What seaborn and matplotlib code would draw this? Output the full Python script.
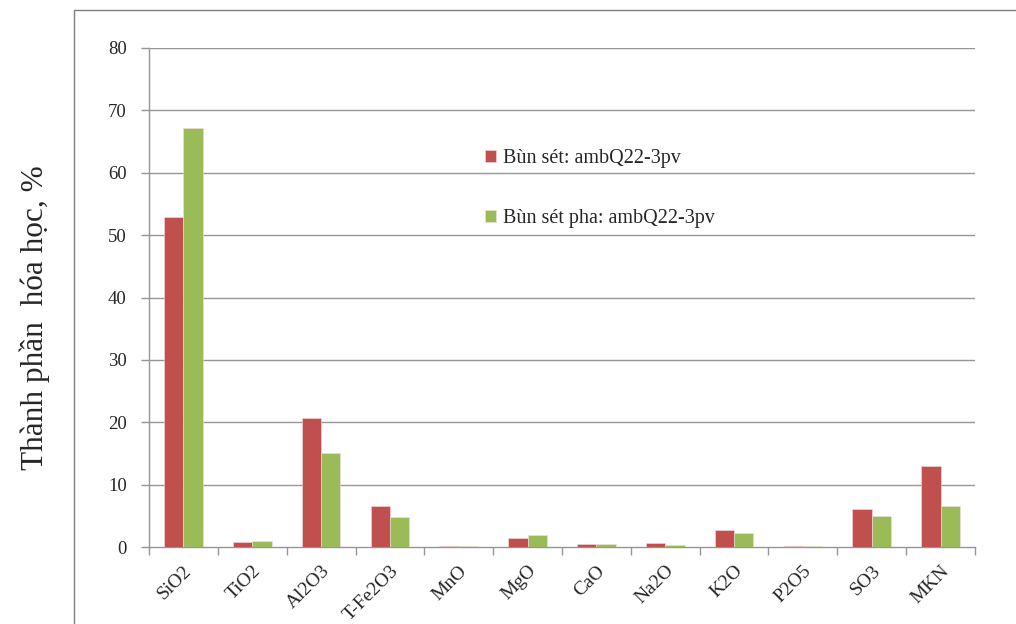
import matplotlib
matplotlib.use("Agg")
import matplotlib.pyplot as plt
from matplotlib.patches import Rectangle
import seaborn as sns
import pandas as pd

# Chemical composition of the two clay samples (%)
oxides = ["SiO2", "TiO2", "Al2O3", "T-Fe2O3", "MnO", "MgO", "CaO",
          "Na2O", "K2O", "P2O5", "SO3", "MKN"]
bun_set = [52.9, 0.8, 20.7, 6.5, 0.2, 1.45, 0.55, 0.7, 2.7, 0.2, 6.1, 13.0]
bun_set_pha = [67.2, 1.0, 15.0, 4.8, 0.15, 2.0, 0.55, 0.4, 2.2, 0.15, 5.0, 6.5]
series_names = ["Bùn sét: ambQ22-3pv", "Bùn sét pha: ambQ22-3pv"]
y_ticks = [0, 10, 20, 30, 40, 50, 60, 70, 80]
y_label = "Thành phần  hóa học, %"

df = pd.DataFrame({
    "oxide": oxides * 2,
    "value": bun_set + bun_set_pha,
    "series": [series_names[0]] * len(oxides) + [series_names[1]] * len(oxides),
})

sns.set_theme(style="white")
plt.rcParams["font.family"] = ["Liberation Serif", "DejaVu Serif"]

fig = plt.figure(figsize=(10.16, 6.24), dpi=100)
ax = fig.add_axes([149 / 1016, 1 - 547 / 624, (975 - 149) / 1016, (547 - 48) / 624])

palette = {series_names[0]: "#C0504D", series_names[1]: "#9BBB59"}
sns.barplot(data=df, x="oxide", y="value", hue="series", order=oxides,
            hue_order=series_names, palette=palette, width=0.56, gap=0,
            saturation=1, edgecolor="#f4dede", linewidth=0.4, ax=ax, zorder=3)

grid_color = "#969696"
ax.set_ylim(0, 80)
ax.set_xlim(-0.5, len(oxides) - 0.5)
ax.set_yticks(y_ticks)
ax.set_yticklabels([str(t) for t in y_ticks], fontsize=13.5)
for t in y_ticks[1:]:
    ax.axhline(t, color=grid_color, linewidth=1.0, zorder=1)

# category boundaries as major ticks, names as minor ticks
ax.set_xticks([i - 0.5 for i in range(len(oxides) + 1)])
ax.set_xticklabels([])
ax.set_xticks(range(len(oxides)), minor=True)
ax.set_xticklabels(oxides, minor=True, rotation=45, ha="right",
                   rotation_mode="anchor", fontsize=14)
ax.tick_params(axis="x", which="major", length=6, width=1, color=grid_color,
               direction="out", bottom=True)
ax.tick_params(axis="x", which="minor", length=0, pad=11, bottom=True)
ax.tick_params(axis="y", length=6, width=1, color=grid_color, direction="out",
               left=True, pad=10)

for side in ["top", "right"]:
    ax.spines[side].set_visible(False)
for side in ["left", "bottom"]:
    ax.spines[side].set_color(grid_color)
    ax.spines[side].set_linewidth(1.0)

ax.set_xlabel("")
ax.set_ylabel("")
fig.text(35 / 1016, 1 - 318 / 624, y_label, rotation=90, fontsize=22.5,
         ha="center", va="center")

handles, labels = ax.get_legend_handles_labels()
ax.legend(handles, labels, loc="upper left", bbox_to_anchor=(467 / 1016, 1 - 131 / 624),
          bbox_transform=fig.transFigure, frameon=False, fontsize=14.5,
          handlelength=0.55, handleheight=0.55, handletextpad=0.35,
          labelspacing=2.05)

# outer chart-area border
fig.patches.append(Rectangle((74 / 1016, -0.1), 1.2, 0.1 + 1 - 10 / 624,
                             transform=fig.transFigure, fill=False,
                             edgecolor="#7f7f7f", linewidth=1.0))

fig.savefig("out.png", dpi=100)
